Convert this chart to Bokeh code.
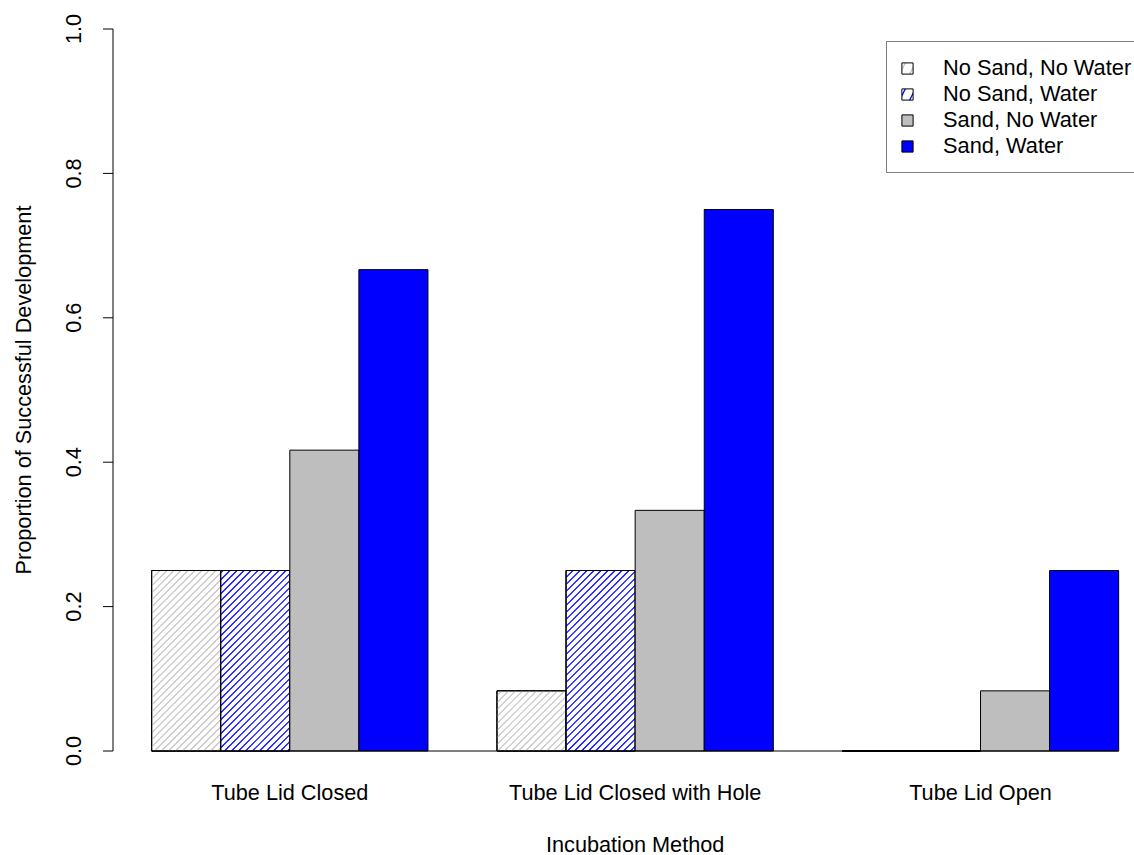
import math
from bokeh.plotting import figure
from bokeh.models import Range1d, Legend, LegendItem, ColumnDataSource
from bokeh.core.properties import value
from bokeh.embed import file_html
from bokeh.resources import INLINE

# Incubation methods (groups) and treatments (bars within a group)
methods = ["Tube Lid Closed", "Tube Lid Closed with Hole", "Tube Lid Open"]
treatments = ["No Sand, No Water", "No Sand, Water", "Sand, No Water", "Sand, Water"]

# Proportion of successful development per treatment, one value per method
no_sand_no_water = [0.25, 0.0833, 0.0]
no_sand_water = [0.25, 0.25, 0.0]
sand_no_water = [0.4167, 0.3333, 0.0833]
sand_water = [0.6667, 0.75, 0.25]

y_ticks = [0.0, 0.2, 0.4, 0.6, 0.8, 1.0]
x_title = "Incubation Method"
y_title = "Proportion of Successful Development"

series = [no_sand_no_water, no_sand_water, sand_no_water, sand_water]

fill_colors = ["white", "white", "#bebebe", "#0000ff"]
hatch_colors = ["#c4c4c4", "#0000ff", None, None]
hatched = [True, True, False, False]

FONT = value("Liberation Sans")
FSIZE = value("21.7px")

n_series = len(treatments)
gap = 1.0          # empty slot between groups, in bar widths
bar_w = 1.0
step = n_series + gap

# The plotting area covers the whole canvas; axes are drawn as glyphs.
# Half-pixel offsets keep the axis line and the baseline crisp.
W, H = 1134, 855
px_per_x = 69.07
px_per_y = 722.0
axis_x = 0.44                      # data x of the value axis
x_lo = axis_x - 112.5 / px_per_x
y_hi = 1 + 28.5 / px_per_y
x_range = Range1d(x_lo, x_lo + W / px_per_x)
y_range = Range1d(y_hi - H / px_per_y, y_hi)

hatch_gap_px = 7.0


def px_x(d):
    return d / px_per_x


def px_y(d):
    return d / px_per_y


def shading(lefts, tops):
    """45-degree lines clipped to each bar rectangle."""
    xs, ys = [], []
    for xl, top in zip(lefts, tops):
        w = bar_w * px_per_x
        h = top * px_per_y
        u0 = (xl - x_lo) * px_per_x
        k0 = math.floor((u0 - h) / hatch_gap_px)
        k1 = math.ceil((u0 + w) / hatch_gap_px)
        for k in range(k0, k1 + 1):
            c = k * hatch_gap_px
            ua = max(u0, c)
            ub = min(u0 + w, c + h)
            if ub - ua > 0.5:
                xs.append([x_lo + ua / px_per_x, x_lo + ub / px_per_x])
                ys.append([(ua - c) / px_per_y, (ub - c) / px_per_y])
    return xs, ys


p = figure(width=W, height=H, output_backend="svg", toolbar_location=None,
           x_range=x_range, y_range=y_range,
           x_axis_type=None, y_axis_type=None,
           min_border_left=0, min_border_right=0,
           min_border_top=0, min_border_bottom=0)
p.outline_line_color = None
p.grid.visible = False
p.background_fill_color = "white"
p.border_fill_color = "white"

items = []
for j, (name, vals) in enumerate(zip(treatments, series)):
    lefts = [1 + g * step + j for g in range(len(methods))]
    xs = [l + bar_w / 2 for l in lefts]
    src = ColumnDataSource(dict(x=xs, top=vals))
    if hatched[j]:
        # patterned swatch for the legend; covered by the bars drawn next
        key = p.vbar(x="x", top="top", bottom=0, width=bar_w, source=src,
                     fill_color="white", line_color="black", line_width=1,
                     hatch_pattern="/", hatch_color=hatch_colors[j],
                     hatch_scale=20, hatch_weight=1.3)
        p.vbar(x="x", top="top", bottom=0, width=bar_w, source=src,
               fill_color=fill_colors[j], line_color="black", line_width=1)
        hx, hy = shading(lefts, vals)
        p.multi_line(xs=hx, ys=hy, line_color=hatch_colors[j], line_width=1.2)
        # outline again on top of the shading
        p.vbar(x="x", top="top", bottom=0, width=bar_w, source=src,
               fill_color=None, line_color="black", line_width=1)
    else:
        key = p.vbar(x="x", top="top", bottom=0, width=bar_w, source=src,
                     fill_color=fill_colors[j], line_color="black", line_width=1)
    items.append(LegendItem(label=name, renderers=[key]))

# baseline under all bars
x_first = 1
x_last = 1 + (len(methods) - 1) * step + n_series * bar_w
p.segment(x0=[x_first], x1=[x_last], y0=[0], y1=[0], line_color="black", line_width=1)

# group names under the group centres
centers = [1 + g * step + n_series * bar_w / 2 for g in range(len(methods))]
p.text(x=centers, y=[-px_y(41)] * len(centers), text=methods,
       text_font=FONT, text_font_size=FSIZE, text_color="black",
       text_align="center", text_baseline="middle")

# x axis title, centred under the full run of bars
p.text(x=[(x_first + x_last) / 2], y=[-px_y(93)], text=[x_title],
       text_font=FONT, text_font_size=FSIZE, text_color="black",
       text_align="center", text_baseline="middle")

# value axis: line, outward ticks and rotated labels
p.segment(x0=[axis_x], x1=[axis_x], y0=[y_ticks[0]], y1=[y_ticks[-1]],
          line_color="black", line_width=1)
p.segment(x0=[axis_x - px_x(10)] * len(y_ticks), x1=[axis_x] * len(y_ticks),
          y0=y_ticks, y1=y_ticks, line_color="black", line_width=1)
p.text(x=[axis_x - px_x(40)] * len(y_ticks), y=y_ticks,
       text=[f"{t:.1f}" for t in y_ticks], angle=math.pi / 2,
       text_font=FONT, text_font_size=FSIZE, text_color="black",
       text_align="center", text_baseline="middle")
p.text(x=[axis_x - px_x(90)], y=[(y_ticks[0] + y_ticks[-1]) / 2], text=[y_title],
       angle=math.pi / 2, text_font=FONT, text_font_size=FSIZE, text_color="black",
       text_align="center", text_baseline="middle")

legend = Legend(items=items, location=(886, 682),
                border_line_color="black", border_line_width=1,
                background_fill_color="white", background_fill_alpha=1,
                label_text_font="Liberation Sans", label_text_font_size="21.8px",
                label_text_color="black",
                glyph_width=14, glyph_height=14, label_standoff=29,
                padding=13, spacing=0, label_height=26, margin=0)
p.add_layout(legend)

open("out.html", "w").write(file_html(p, INLINE))
